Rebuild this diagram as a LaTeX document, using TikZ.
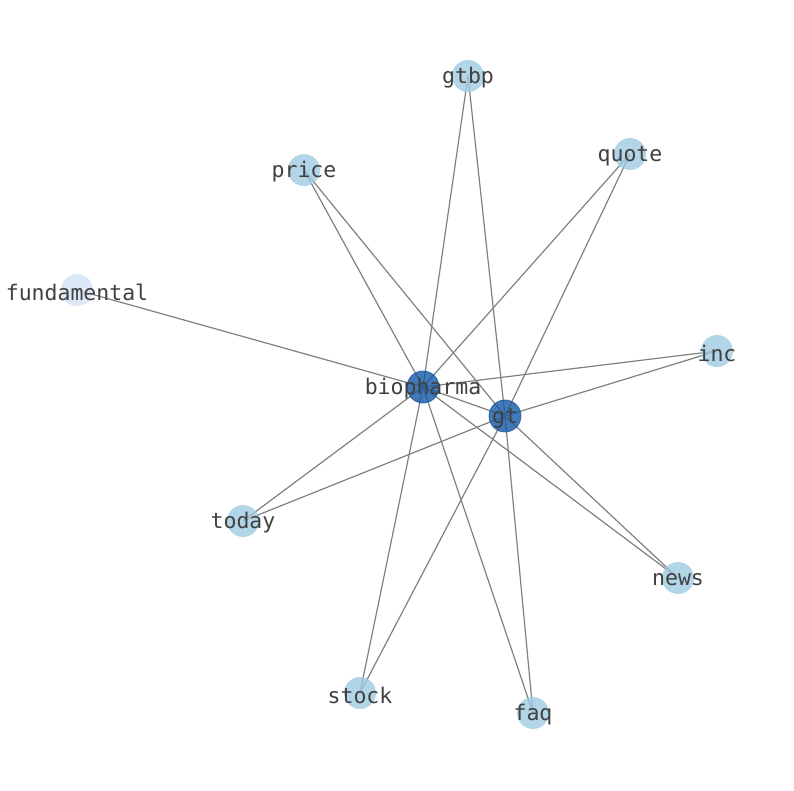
\documentclass[tikz,border=0pt]{standalone}
\usepackage{fontspec}
\newfontfamily\wordfont{DejaVu Sans Mono}
\usetikzlibrary{backgrounds}
\definecolor{lightword}{RGB}{160,202,226}
\definecolor{darkword}{RGB}{20,88,165}
\definecolor{paleword}{RGB}{212,227,244}
\definecolor{wordtext}{RGB}{64,64,64}
\tikzset{
  wordlabel/.style={opacity=1, text=wordtext, inner sep=0pt, yshift=-2pt, font=\wordfont\fontsize{21.5}{24}\selectfont},
  word/.style={circle, minimum size=32pt, inner sep=0pt, fill=lightword, opacity=0.8, label={[wordlabel]center:#1}},
  hubword/.style={word=#1, fill=darkword, draw=darkword, line width=0.8pt},
  rareword/.style={word=#1, fill=paleword},
  link/.style={draw=gray, line width=1.2pt}
}
\begin{document}
\begin{tikzpicture}[x=1pt, y=-1pt]
        \useasboundingbox (0,0) rectangle (794,790);
        % the two central terms
        \node (biopharma) [hubword=biopharma] at (423,387) {};
        \node (gt) [hubword=gt] at (505,416) {};
        % co-occurring terms
        \node (gtbp) [word=gtbp] at (468,76) {};
        \node (quote) [word=quote] at (630,154) {};
        \node (price) [word=price] at (304,170) {};
        \node (fundamental) [rareword=fundamental] at (77,290) {};
        \node (inc) [word=inc] at (717,351) {};
        \node (today) [word=today] at (243,521) {};
        \node (news) [word=news] at (678,578) {};
        \node (stock) [word=stock] at (360,693) {};
        \node (faq) [word=faq] at (533,713) {};
        \begin{pgfonlayer}{background}
            \foreach \other in {gt,gtbp,quote,price,fundamental,inc,today,news,stock,faq}
                \draw [link] (biopharma.center) -- (\other.center);
            \foreach \other in {gtbp,quote,price,inc,today,news,stock,faq}
                \draw [link] (gt.center) -- (\other.center);
        \end{pgfonlayer}
    \end{tikzpicture}
\end{document}
